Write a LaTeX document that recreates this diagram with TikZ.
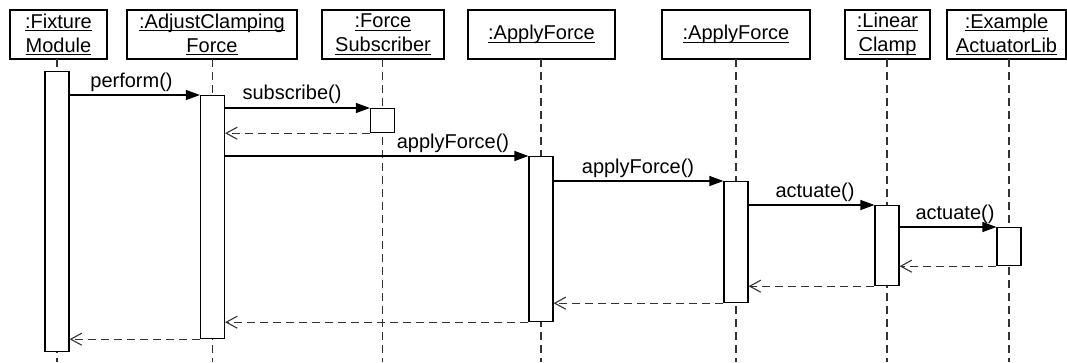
\documentclass[tikz,border=0pt]{standalone}
\usepackage{fontspec}
\setmainfont{Liberation Sans}
\usetikzlibrary{arrows.meta}
\newcommand\ulx[1]{\setbox0\hbox{#1}\rlap{\rule[-3pt]{\wd0}{1.1pt}}\box0}
\begin{document}
\begin{tikzpicture}[x=1pt,y=-1pt,
  every node/.style={font=\fontsize{20}{24}\selectfont},
  head/.style={draw, line width=1.2pt, inner sep=0pt, minimum height=49pt, align=center, fill=white},
  act/.style={draw, line width=1.2pt, fill=white, inner sep=0pt, minimum width=24pt, anchor=north},
  life/.style={line width=1.2pt, draw=black!80, dash pattern=on 8pt off 5pt},
  call/.style={line width=1.2pt, -{Triangle[length=14pt,width=10pt]}},
  ret/.style={line width=1.2pt, draw=black!80, dash pattern=on 8pt off 5pt, -{Straight Barb[length=11pt,width=12pt,line width=1.1pt]}},
  msg/.style={anchor=base, inner sep=0pt}]
\useasboundingbox (0,0) rectangle (1067,362);
\coordinate (bot) at (0,362);
% headers
\node[head, minimum width=97pt] (h1) at (58.5,34.5) {\ulx{:Fixture}\\\ulx{Module}};
\node[head, minimum width=170pt] (h2) at (212,34.5) {\ulx{:AdjustClamping}\\\ulx{Force}};
\node[head, minimum width=122pt] (h3) at (383,34.5) {\ulx{:Force}\\\ulx{Subscriber}};
\node[head, minimum width=147pt] (h4) at (541.5,34.5) {\ulx{:ApplyForce}};
\node[head, minimum width=148pt] (h5) at (736,34.5) {\ulx{:ApplyForce}};
\node[head, minimum width=85pt] (h6) at (887.5,34.5) {\ulx{:Linear}\\\ulx{Clamp}};
\node[head, minimum width=119pt] (h7) at (1006.5,34.5) {\ulx{:Example}\\\ulx{ActuatorLib}};
% lifelines
\draw[life] (57,59) coordinate (l1) -- (l1 |- bot);
\draw[life] (212.5,59) coordinate (l2) -- (l2 |- bot);
\draw[life] (382.5,59) coordinate (l3) -- (l3 |- bot);
\draw[life] (541,59) coordinate (l4) -- (l4 |- bot);
\draw[life] (736,59) coordinate (l5) -- (l5 |- bot);
\draw[life] (887,59) coordinate (l6) -- (l6 |- bot);
\draw[life] (1009,59) coordinate (l7) -- (l7 |- bot);
% activations
\node[act, minimum height=280pt] (a1) at (57,71) {};
\node[act, minimum height=243pt] (a2) at (212.5,95) {};
\node[act, minimum height=24pt] (a3) at (382.5,108) {};
\node[act, minimum height=165pt] (a4) at (541,156) {};
\node[act, minimum height=121pt] (a5) at (736,181) {};
\node[act, minimum height=80pt] (a6) at (887,205) {};
\node[act, minimum height=38pt] (a7) at (1009,227) {};
% calls
\draw[call] (a1.east |- a2.north) -- (a2.north west);
\draw[call] (a2.east |- a3.north) -- (a3.north west);
\draw[call] (a2.east |- a4.north) -- (a4.north west);
\draw[call] (a4.east |- a5.north) -- (a5.north west);
\draw[call] (a5.east |- a6.north) -- (a6.north west);
\draw[call] (a6.east |- a7.north) -- (a7.north west);
% returns
\draw[ret] (a3.south west) -- (a2.east |- a3.south);
\draw[ret] (a7.south west) -- (a6.east |- a7.south);
\draw[ret] (a6.south west) -- (a5.east |- a6.south);
\draw[ret] (a5.south west) -- (a4.east |- a5.south);
\draw[ret] (a4.south west) -- (a2.east |- a4.south);
\draw[ret] (a2.south west) -- (a1.east |- a2.south);
% labels
\node[msg] (m1) at (131.5,87) {perform()};
\node[msg] (m2) at (292,99) {subscribe()};
\node[msg] (m3) at (453,148) {applyForce()};
\node[msg] (m4) at (638,173) {applyForce()};
\node[msg] (m5) at (815,197) {actuate()};
\node[msg] (m6) at (955,219) {actuate()};
\end{tikzpicture}
\end{document}
